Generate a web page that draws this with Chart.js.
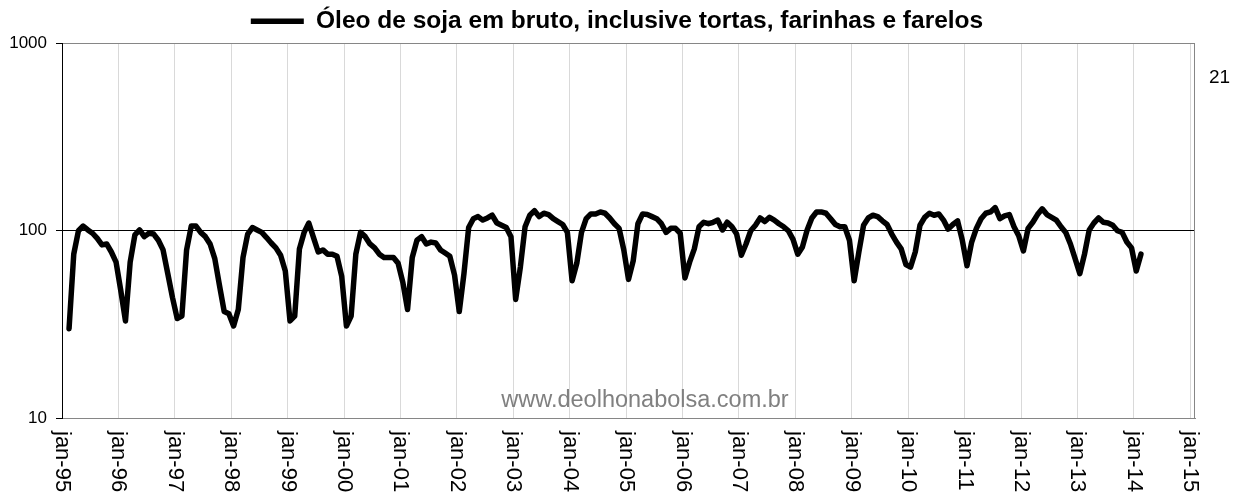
<!DOCTYPE html>
<html>
<head>
<meta charset="utf-8">
<script src="https://cdn.jsdelivr.net/npm/chart.js@4/dist/chart.umd.min.js"></script>
<style>
  body { margin: 0; background: #fff; }
  canvas { display: block; }
</style>
</head>
<body>
<canvas id="oleoChart" width="1234" height="497"></canvas>
<script>
// serie mensal, fev-95 ate fev-14 (base 100)
const values1995 = [30, 75, 100, 106, 101, 97, 91, 84, 85, 77, 68];
const values1996 = [48, 33, 68, 95, 101, 93, 97, 96, 89, 79, 59, 44];
const values1997 = [34, 35, 79, 106, 106, 98, 93, 85, 71, 51, 37, 36];
const values1998 = [31, 38, 72, 96, 104, 101, 98, 92, 86, 81, 74, 61];
const values1999 = [33, 35, 80, 98, 110, 92, 77, 79, 75, 75, 73, 57];
const values2000 = [31, 35, 75, 98, 93, 85, 81, 75, 72, 72, 72, 67];
const values2001 = [53, 38, 72, 89, 93, 85, 87, 86, 79, 76, 73, 58];
const values2002 = [37, 59, 104, 116, 119, 114, 117, 121, 110, 107, 104, 93];
const values2003 = [43, 64, 105, 121, 128, 119, 124, 122, 116, 112, 108, 98];
const values2004 = [54, 67, 98, 116, 123, 123, 126, 124, 117, 109, 103, 79];
const values2005 = [55, 69, 109, 123, 122, 119, 116, 109, 98, 103, 103, 97];
const values2006 = [56, 68, 80, 105, 111, 109, 111, 114, 101, 111, 105, 96];
const values2007 = [74, 85, 100, 107, 117, 112, 118, 114, 109, 105, 100, 90];
const values2008 = [75, 82, 101, 117, 126, 126, 124, 116, 108, 105, 105, 89];
const values2009 = [54, 77, 107, 117, 121, 119, 113, 108, 96, 87, 80, 66];
const values2010 = [64, 77, 107, 118, 124, 121, 123, 114, 102, 108, 113, 89];
const values2011 = [65, 87, 103, 116, 124, 126, 133, 116, 120, 122, 105, 94];
const values2012 = [78, 103, 111, 122, 131, 122, 118, 114, 105, 98, 85, 71];
const values2013 = [59, 75, 101, 110, 117, 111, 110, 107, 100, 98, 87, 81];
const values2014 = [61, 75];

const yearLabels = ["jan-95", "jan-96", "jan-97", "jan-98", "jan-99", "jan-00", "jan-01",
  "jan-02", "jan-03", "jan-04", "jan-05", "jan-06", "jan-07", "jan-08", "jan-09", "jan-10",
  "jan-11", "jan-12", "jan-13", "jan-14", "jan-15"];
const yTicks = [10, 100, 1000];

const seriesName = "Óleo de soja em bruto, inclusive tortas, farinhas e farelos";
const sideNote = "21";
const watermark = "www.deolhonabolsa.com.br";

const allValues = [].concat(values1995, values1996, values1997, values1998, values1999,
  values2000, values2001, values2002, values2003, values2004, values2005, values2006,
  values2007, values2008, values2009, values2010, values2011, values2012, values2013, values2014);

// meses contados a partir de jan-95; primeiro ponto = fev-95, no meio do mes
const firstMonth = 1;
const points = allValues.map((v, i) => ({ x: firstMonth + i + 0.5, y: v }));

const FONT = "'Liberation Sans', Arial, sans-serif";

const extras = {
  id: "extras",
  afterDraw(chart) {
    const { ctx, chartArea, scales } = chart;
    ctx.save();
    // borda direita da area do grafico
    ctx.strokeStyle = "#868686";
    ctx.lineWidth = 1;
    ctx.beginPath();
    ctx.moveTo(chartArea.right - 0.5, chartArea.top);
    ctx.lineTo(chartArea.right - 0.5, chartArea.bottom);
    ctx.stroke();

    // rotulos do eixo x, girados
    ctx.fillStyle = "#000";
    ctx.font = "22px " + FONT;
    ctx.textAlign = "left";
    ctx.textBaseline = "middle";
    yearLabels.forEach((lbl, k) => {
      const x = scales.x.getPixelForValue(k * 12);
      ctx.save();
      ctx.translate(x, chartArea.bottom + 13);
      ctx.rotate(Math.PI / 2);
      ctx.fillText(lbl, 0, 0);
      ctx.restore();
    });

    ctx.font = "19px " + FONT;
    ctx.fillText(sideNote, 1209, 78);

    ctx.fillStyle = "#808080";
    ctx.font = "23.5px " + FONT;
    ctx.textAlign = "center";
    ctx.textBaseline = "alphabetic";
    ctx.fillText(watermark, 645, 407);
    ctx.restore();
  }
};

new Chart(document.getElementById("oleoChart"), {
  type: "line",
  data: {
    datasets: [{
      label: seriesName,
      data: points,
      borderColor: "#000",
      backgroundColor: "#000",
      borderWidth: 5.5,
      borderJoinStyle: "round",
      borderCapStyle: "round",
      pointRadius: 0,
      tension: 0,
      fill: false
    }]
  },
  options: {
    responsive: false,
    animation: false,
    layout: { padding: { top: 4, right: 0, bottom: 0, left: 0 } },
    plugins: {
      legend: {
        position: "top",
        labels: {
          usePointStyle: true,
          pointStyle: "line",
          pointStyleWidth: 53,
          padding: 5,
          color: "#000",
          font: { family: FONT, size: 24.5, weight: "bold" }
        }
      },
      tooltip: { enabled: false }
    },
    scales: {
      x: {
        type: "linear",
        min: 0,
        max: 241,
        afterBuildTicks: s => { s.ticks = yearLabels.map((_, k) => ({ value: k * 12 })); },
        afterFit: s => { s.height = 79; },
        ticks: { display: false },
        grid: { color: "#d9d9d9", drawTicks: false },
        border: { color: "#868686" }
      },
      y: {
        type: "logarithmic",
        min: 10,
        max: 1000,
        afterBuildTicks: s => { s.ticks = yTicks.map(v => ({ value: v })); },
        afterFit: s => { s.width = 62; },
        ticks: {
          color: "#000",
          padding: 9,
          font: { family: FONT, size: 17 },
          callback: v => String(v)
        },
        grid: {
          color: c => (c.tick && c.tick.value === 100 ? "#000" : "#868686"),
          tickColor: "#000",
          tickLength: 6
        },
        border: { color: "#000" }
      },
      // margem direita (onde fica o "21"), sem marcas
      side: {
        type: "linear",
        position: "right",
        min: 0,
        max: 1,
        afterFit: s => { s.width = 39; },
        ticks: { display: false },
        grid: { display: false },
        border: { display: false }
      }
    }
  },
  plugins: [extras]
});
</script>
</body>
</html>
